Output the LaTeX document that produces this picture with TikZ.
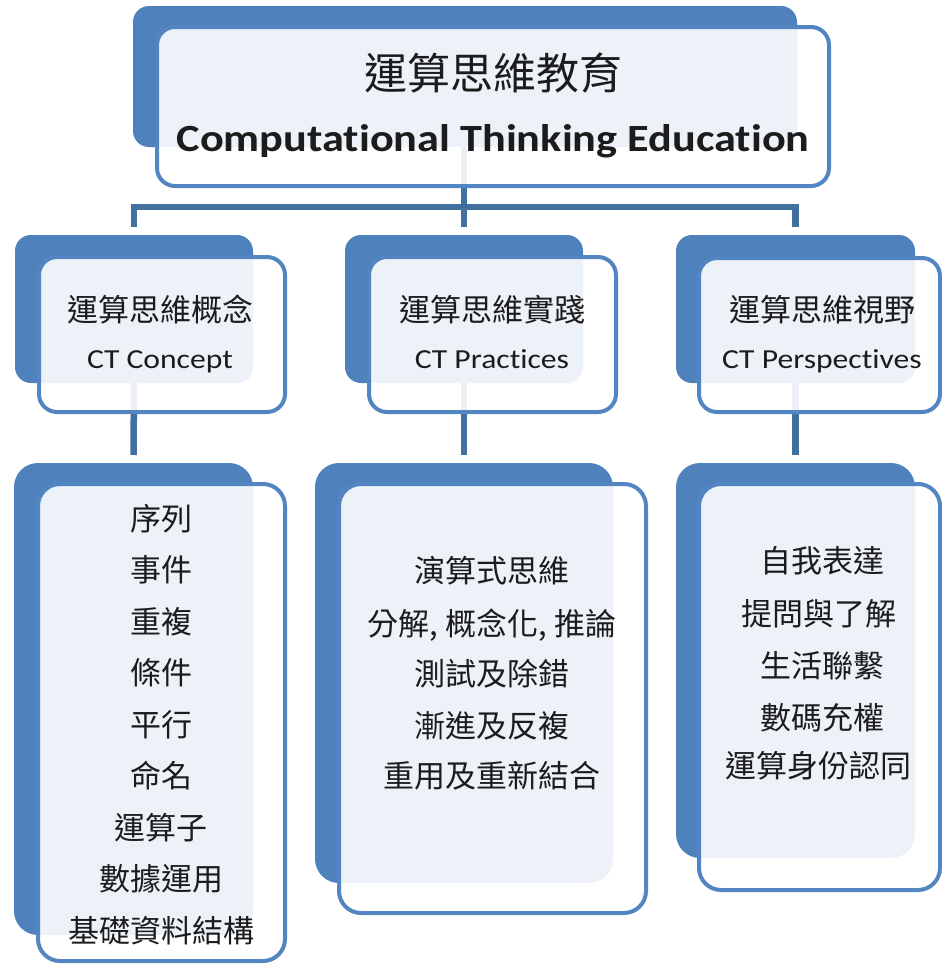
\documentclass[tikz,border=0pt]{standalone}
\usepackage{fontspec}
\setmainfont{Carlito}[FakeStretch=1.15, Ligatures=CommonOff]
\newfontfamily\cjk{Noto Sans CJK TC}
\definecolor{backblue}{HTML}{4F81BD}
\definecolor{frontblue}{HTML}{5285C1}
\definecolor{connblue}{HTML}{41709F}
\definecolor{txt}{HTML}{1C1C1C}
\tikzset{
  backbox/.style={rectangle, rounded corners=#1, fill=backblue, draw=none, inner sep=0pt, outer sep=0pt},
  frontbox/.style={rectangle, rounded corners=#1, fill=white, fill opacity=0.9, draw=frontblue, draw opacity=1, line width=4pt, inner sep=0pt, outer sep=0pt},
  conn/.style={draw=connblue, line width=6.5pt},
  lbl/.style={anchor=base, inner sep=0pt, text=txt},
  cjkbody/.style={lbl, font=\cjk\fontsize{31}{31}\selectfont},
  latbody/.style={lbl, font=\fontsize{27.5}{27.5}\selectfont},
}
\begin{document}
\begin{tikzpicture}[x=1pt,y=-1pt]
\useasboundingbox (0,0) rectangle (942,964);
% back boxes
\node[backbox=16, minimum width=664pt, minimum height=141pt] (topB) at (465,76.5) {};
\node[backbox=16, minimum width=238pt, minimum height=148pt] (cB) at (134,309) {};
\node[backbox=16, minimum width=238pt, minimum height=148pt] (pB) at (464,309) {};
\node[backbox=16, minimum width=239pt, minimum height=148pt] (vB) at (795.5,309) {};
\node[backbox=24, minimum width=239pt, minimum height=472pt] (cLB) at (133.5,699) {};
\node[backbox=24, minimum width=298pt, minimum height=420pt] (pLB) at (464,673) {};
\node[backbox=24, minimum width=239pt, minimum height=395pt] (vLB) at (795.5,660.5) {};
% connectors
\coordinate (barM) at (464,207);
\coordinate (barL) at (134,207);
\coordinate (barR) at (795.5,207);
\draw[conn] (topB.south -| barM) -- (barM);
\draw[conn] ([yshift=8pt]cB.north) -- (barL) -- (barR) -- ([yshift=8pt]vB.north);
\draw[conn] (barM) -- ([yshift=8pt]pB.north);
\draw[conn] (cB.south) -- ([yshift=8pt]cLB.north);
\draw[conn] (pB.south) -- ([yshift=8pt]pLB.north);
\draw[conn] (vB.south) -- ([yshift=8pt]vLB.north);
% front boxes
\node[frontbox=18, minimum width=672pt, minimum height=159pt] (topF) at (493,106.5) {};
\node[frontbox=18, minimum width=246pt, minimum height=155pt] (cF) at (162,334.5) {};
\node[frontbox=18, minimum width=247pt, minimum height=155pt] (pF) at (492.5,334.5) {};
\node[frontbox=18, minimum width=241pt, minimum height=154pt] (vF) at (819.5,335) {};
\node[frontbox=22, minimum width=247pt, minimum height=477pt] (cLF) at (161.5,722.5) {};
\node[frontbox=22, minimum width=307pt, minimum height=429pt] (pLF) at (492.5,698.5) {};
\node[frontbox=22, minimum width=241pt, minimum height=406pt] (vLF) at (819.5,687) {};
% title
\node[lbl, font=\cjk\fontsize{43}{43}\selectfont] (t1) at (493,89) {運算思維教育};
\node[lbl, font=\fontsize{38.5}{38.5}\selectfont\bfseries] (t2) at (493,151) {Computational Thinking Education};
% level 2
\node[cjkbody] (c1) at (160,321) {運算思維概念};
\node[latbody] (c2) at (160,368) {CT Concept};
\node[cjkbody] (p1) at (492,321) {運算思維實踐};
\node[latbody] (p2) at (492,368) {CT Practices};
\node[cjkbody] (v1) at (822,321) {運算思維視野};
\node[latbody] (v2) at (822,368) {CT Perspectives};
% level 3 left
\foreach \t [count=\i] in {序列,事件,重複,條件,平行,命名,運算子,數據運用,基礎資料結構}
  \node[cjkbody] (cl\i) at (161,{530+51.5*(\i-1)}) {\t};
% level 3 middle
\node[cjkbody] (pl1) at (492,582) {演算式思維};
\node[cjkbody] (pl2) at (492,635) {分解, 概念化, 推論};
\node[cjkbody] (pl3) at (492,685) {測試及除錯};
\node[cjkbody] (pl4) at (492,737) {漸進及反複};
\node[cjkbody] (pl5) at (492,787) {重用及重新結合};
% level 3 right
\node[cjkbody] (vl1) at (822,572) {自我表達};
\node[cjkbody] (vl2) at (819,625) {提問與了解};
\node[cjkbody] (vl3) at (822,677) {生活聯繫};
\node[cjkbody] (vl4) at (822,729) {數碼充權};
\node[cjkbody] (vl5) at (818,777) {運算身份認同};
\end{tikzpicture}
\end{document}
